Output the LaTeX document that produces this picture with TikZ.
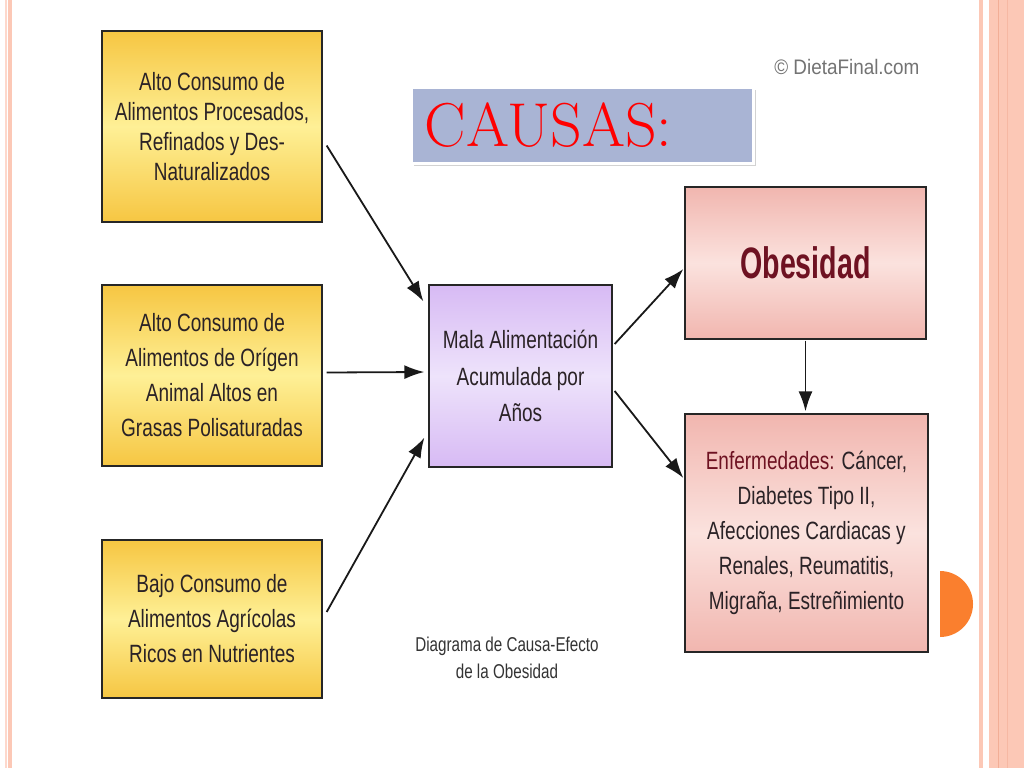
\documentclass[tikz,border=0pt]{standalone}
\usepackage{fontspec}
\usetikzlibrary{arrows.meta,calc,shadows}
\newfontfamily\narrow[FakeStretch=0.76]{Liberation Sans}
\newfontfamily\narrowbold[FakeStretch=0.65]{Liberation Sans Bold}
\newfontfamily\plainsans[FakeStretch=0.9]{Liberation Sans}
\definecolor{txt}{HTML}{2A2226}
\definecolor{darkred}{HTML}{6E1222}
\definecolor{stripe}{HTML}{FCC8B6}
\definecolor{stripedark}{HTML}{F2AE96}
\definecolor{orangedot}{HTML}{FA7F2E}
\definecolor{causasfill}{HTML}{A9B4D4}
\definecolor{yedge}{HTML}{F6C642}
\definecolor{ymid}{HTML}{FEF096}
\definecolor{pedge}{HTML}{F1B6AF}
\definecolor{pmid}{HTML}{FBE2DE}
\definecolor{vedge}{HTML}{D7BAF4}
\definecolor{vmid}{HTML}{EEE3FB}
\tikzset{
  cbox/.style={draw=black!85, line width=1.3pt, rectangle, align=center, text=txt, inner sep=0pt},
  yellowbox/.style={cbox, top color=yedge, bottom color=yedge, middle color=ymid,
     font={\narrow\fontsize{25}{35}\selectfont}, minimum width=220pt},
  purplebox/.style={cbox, top color=vedge, bottom color=vedge, middle color=vmid,
     font={\narrow\fontsize{25}{36.5}\selectfont}},
  pinkbox/.style={cbox, top color=pedge, bottom color=pedge, middle color=pmid},
  arr/.style={-{Latex[length=20pt,width=14pt]}, line width=1.8pt, draw=black!90},
}
\begin{document}
\begin{tikzpicture}[x=1pt,y=-1pt]
\useasboundingbox (0,0) rectangle (1024,768);
\fill[white] (0,0) rectangle (1024,768);
% page stripes
\fill[stripe!70] (5,0) rectangle (6.5,768);
\fill[stripe] (8,0) rectangle (12,768);
\fill[stripe] (979,0) rectangle (983,768);
\fill[stripe] (989,0) rectangle (1024,768);
\draw[stripedark, line width=1pt] (998,0) -- (998,768);
\draw[stripedark!60!stripe, line width=1pt] (1007,0) -- (1007,768);
\fill[orangedot] (940,637) arc[start angle=90, end angle=-90, radius=33] -- cycle;

% cause boxes
\node[yellowbox, minimum height=191pt, font={\narrow\fontsize{25}{30}\selectfont}] (b1) at (212,126.5)
  {Alto Consumo de\\Alimentos Procesados,\\Refinados y Des-\\Naturalizados};
\node[yellowbox, minimum height=181pt] (b2) at (212,375.5)
  {Alto Consumo de\\Alimentos de Orígen\\Animal Altos en\\Grasas Polisaturadas};
\node[yellowbox, minimum height=158pt] (b3) at (212,619)
  {Bajo Consumo de\\Alimentos Agrícolas\\Ricos en Nutrientes};

% middle
\node[purplebox, minimum width=183pt, minimum height=182pt] (mid) at (520.5,376)
  {Mala Alimentación\\Acumulada por\\Años};

% effects
\node[pinkbox, minimum width=241pt, minimum height=152pt, text=darkred,
      font={\narrowbold\fontsize{44}{48}\selectfont}] (obes) at (805.5,263) {Obesidad};
\node[pinkbox, minimum width=243pt, minimum height=238pt,
      font={\narrow\fontsize{25}{35}\selectfont}] (enf) at (806.5,533)
  {{\color{darkred}Enfermedades:} Cáncer,\\Diabetes Tipo II,\\Afecciones Cardiacas y\\Renales, Reumatitis,\\Migraña, Estreñimiento};

% title box
\node[rectangle, fill=causasfill, draw=white, line width=3pt, minimum width=342pt, minimum height=76pt,
      drop shadow={opacity=0.35, shadow xshift=2pt, shadow yshift=-3pt},
      text=red, font={\fontsize{62}{64}\selectfont}, anchor=west, inner sep=0pt] (causas) at (410,125)
  {\hspace*{8pt}CAUSAS:\hspace*{76pt}};

% labels
\node[text=black!55, font={\plainsans\fontsize{21}{22}\selectfont}, anchor=east] (copy) at (923,67) {© DietaFinal.com};
\node[text=black!80, align=center, font={\narrow\fontsize{20}{27}\selectfont}] (cap) at (507,658)
  {Diagrama de Causa-Efecto\\de la Obesidad};

% connectors
\draw[arr] ($(b1.east)+(4,19)$) -- ($(mid.north west)+(-5,17)$);
\draw[arr] ($(b2.east)+(4,-3)$) -- ($(mid.west)+(-4,-4)$);
\draw[arr] ($(b3.east)+(4,-7)$) -- ($(mid.south west)+(-4,-30)$);
\draw[arr] ($(mid.east)+(2,-32)$) -- ($(obes.west)+(-1,6)$);
\draw[arr] ($(mid.east)+(2,15)$) -- ($(enf.west)+(-1,-55)$);
\draw[arr] ($(obes.south)+(0,1)$) -- ($(enf.north)+(-1,-2)$);
\end{tikzpicture}
\end{document}
